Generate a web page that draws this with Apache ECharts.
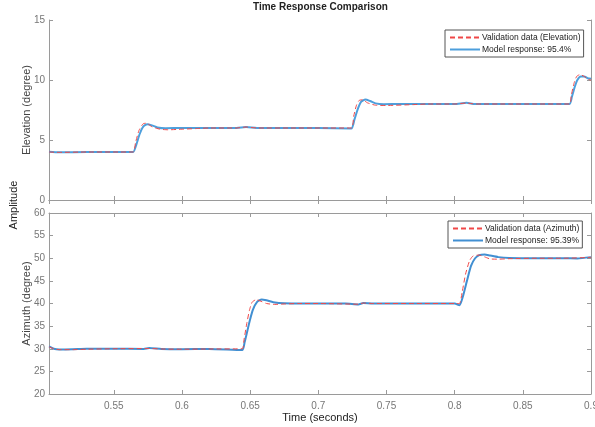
<!DOCTYPE html>
<html lang="en">
<head>
    <meta charset="UTF-8">
    <title>Time Response Comparison</title>
    <script src="https://cdn.jsdelivr.net/npm/echarts@6/dist/echarts.min.js"></script>
    <style>
        html, body { margin: 0; padding: 0; background: #fff; }
    </style>
</head>
<body>
    <div id="mycharts" style="width: 595px;height:427px;"></div>
    <script>
        // elevation (top plot)
        var tElevVal = [0.5025, 0.51, 0.53, 0.55, 0.5642, 0.566, 0.5685, 0.5715, 0.574, 0.578, 0.584, 0.59, 0.60, 0.61, 0.62, 0.64, 0.647, 0.655, 0.68, 0.70, 0.7242, 0.726, 0.728, 0.730, 0.7325, 0.736, 0.742, 0.75, 0.77, 0.78, 0.80, 0.8087, 0.815, 0.84, 0.86, 0.8843, 0.8855, 0.8875, 0.8895, 0.892, 0.895, 0.898, 0.9]
        var elevVal = [4.0, 3.97, 4.0, 4.0, 4.0, 4.8, 5.8, 6.35, 6.4, 6.1, 5.9, 5.85, 5.9, 5.95, 6.0, 6.0, 6.08, 6.0, 6.0, 6.0, 6.0, 7.0, 7.9, 8.3, 8.35, 8.1, 7.9, 7.88, 7.95, 8.0, 8.0, 8.08, 8.0, 8.0, 8.0, 8.0, 8.7, 9.7, 10.3, 10.45, 10.3, 10.05, 10.0]
        var tElevModel = [0.5025, 0.51, 0.53, 0.55, 0.5642, 0.5665, 0.569, 0.5715, 0.5745, 0.578, 0.582, 0.588, 0.60, 0.64, 0.647, 0.655, 0.68, 0.70, 0.7242, 0.7265, 0.729, 0.7315, 0.7345, 0.738, 0.742, 0.748, 0.76, 0.80, 0.8087, 0.815, 0.84, 0.86, 0.8843, 0.886, 0.888, 0.890, 0.8925, 0.895, 0.8975, 0.9]
        var elevModel = [4.02, 3.97, 4.0, 4.0, 4.0, 4.6, 5.5, 6.1, 6.32, 6.22, 6.05, 5.98, 6.0, 6.0, 6.08, 6.0, 6.0, 6.0, 5.96, 6.7, 7.6, 8.2, 8.38, 8.25, 8.05, 7.98, 8.0, 8.0, 8.1, 8.0, 8.0, 8.0, 8.0, 8.6, 9.4, 10.0, 10.3, 10.3, 10.15, 10.1]

        // azimuth (bottom plot)
        var tAzVal = [0.5025, 0.506, 0.51, 0.52, 0.53, 0.55, 0.576, 0.585, 0.60, 0.62, 0.6442, 0.6455, 0.6475, 0.6495, 0.6515, 0.6545, 0.658, 0.662, 0.668, 0.675, 0.685, 0.70, 0.7294, 0.733, 0.74, 0.77, 0.80, 0.8035, 0.8055, 0.808, 0.811, 0.8135, 0.818, 0.822, 0.826, 0.832, 0.84, 0.86, 0.88, 0.9]
        var azVal = [30.4, 30.0, 29.8, 29.8, 29.9, 30.0, 30.05, 29.95, 29.9, 29.95, 30.0, 32.0, 35.5, 38.5, 40.3, 40.85, 40.5, 40.0, 39.8, 39.9, 40.0, 40.0, 39.85, 40.1, 40.0, 40.0, 40.0, 40.0, 42.5, 46.5, 49.5, 50.5, 50.7, 50.3, 49.85, 49.8, 49.9, 50.0, 50.0, 50.2]
        var tAzModel = [0.5025, 0.506, 0.51, 0.52, 0.53, 0.55, 0.572, 0.576, 0.585, 0.60, 0.62, 0.6442, 0.646, 0.648, 0.650, 0.652, 0.655, 0.6585, 0.662, 0.667, 0.675, 0.69, 0.72, 0.7294, 0.733, 0.74, 0.77, 0.80, 0.8035, 0.806, 0.809, 0.812, 0.815, 0.818, 0.822, 0.826, 0.832, 0.84, 0.86, 0.88, 0.89, 0.9]
        var azModel = [30.5, 30.0, 29.85, 29.9, 30.0, 30.0, 29.95, 30.15, 29.95, 29.9, 29.95, 29.7, 31.5, 34.0, 36.5, 38.6, 40.3, 40.9, 40.7, 40.3, 40.05, 40.0, 40.0, 39.8, 40.1, 40.0, 40.0, 40.0, 39.6, 41.5, 45.0, 48.3, 50.0, 50.7, 50.85, 50.6, 50.25, 50.05, 50.0, 50.0, 49.95, 50.25]

        var elevTicks = [0, 5, 10, 15]
        var azTicks = [20, 25, 30, 35, 40, 45, 50, 55, 60]
        var timeRange = [0.5025, 0.9]

        var names = ['Validation data (Elevation)', 'Model response: 95.4%',
                     'Validation data (Azimuth)', 'Model response: 95.39%']

        function pairs(t, v) {
            return t.map(function (x, i) { return [x, v[i]] })
        }

        var chart = echarts.init(document.getElementById('mycharts'))
        var axisGray = '#9a9a9a'
        var font = 'Liberation Sans, Arial, sans-serif'

        function xAx(grid, pos, labels) {
            return {
                type: 'value', gridIndex: grid, position: pos,
                min: timeRange[0], max: timeRange[1], splitNumber: 8,
                axisLine: { lineStyle: { color: axisGray, width: 1 } },
                axisTick: { show: true, inside: true, length: 4, lineStyle: { color: axisGray } },
                axisLabel: {
                    show: labels, showMinLabel: false, color: '#777', fontSize: 10,
                    fontFamily: font, margin: 7
                },
                splitLine: { show: false }
            }
        }
        function yAx(grid, pos, ticks, labels, name) {
            return {
                type: 'value', gridIndex: grid, position: pos,
                min: ticks[0], max: ticks[ticks.length - 1], interval: ticks[1] - ticks[0],
                name: name || '', nameLocation: 'middle', nameGap: 17, nameMoveOverlap: false,
                nameTextStyle: { color: '#444', fontSize: 11, fontFamily: font },
                axisLine: { show: true, lineStyle: { color: axisGray, width: 1 } },
                axisTick: { show: true, inside: true, length: 4, lineStyle: { color: axisGray } },
                axisLabel: { show: labels, color: '#777', fontSize: 10, fontFamily: font, margin: 4 },
                splitLine: { show: false }
            }
        }

        var xAxes = [xAx(0, 'bottom', false), xAx(0, 'top', false), xAx(1, 'bottom', true), xAx(1, 'top', false)]
        xAxes[2].name = 'Time (seconds)'
        xAxes[2].nameLocation = 'middle'
        xAxes[2].nameGap = 18
        xAxes[2].nameTextStyle = { color: '#222', fontSize: 11, fontFamily: font }

        var legendBase = {
            orient: 'vertical',
            backgroundColor: '#fff',
            borderColor: '#555',
            borderWidth: 1,
            padding: [3, 3, 3, 4],
            itemGap: 3,
            itemWidth: 30,
            itemHeight: 8,
            itemStyle: { opacity: 0 },
            textStyle: { fontSize: 8.5, color: '#222', fontFamily: font, padding: [0, 0, 0, -3] }
        }

        var options = {
            animation: false,
            graphic: [{
                type: 'text', left: 253, top: 2,
                style: { text: 'Time Response Comparison', fontSize: 10, fontWeight: 'bold', fill: '#222', fontFamily: font }
            }, {
                type: 'text', x: 14, y: 205, rotation: Math.PI / 2,
                style: { text: 'Amplitude', fontSize: 11, fill: '#222', fontFamily: font, align: 'center', verticalAlign: 'middle' }
            }],
            grid: [
                { left: 49, top: 20, width: 542, height: 180, outerBoundsMode: 'none', containLabel: false },
                { left: 49, top: 213, width: 542, height: 181, outerBoundsMode: 'none', containLabel: false }
            ],
            legend: [
                Object.assign({}, legendBase, { left: 445, top: 30, data: [names[0], names[1]] }),
                Object.assign({}, legendBase, { left: 448, top: 221, data: [names[2], names[3]] })
            ],
            xAxis: xAxes,
            yAxis: [
                yAx(0, 'left', elevTicks, true, 'Elevation (degree)'),
                yAx(0, 'right', elevTicks, false),
                yAx(1, 'left', azTicks, true, 'Azimuth (degree)'),
                yAx(1, 'right', azTicks, false)
            ],
            series: [{
                name: names[1], type: 'line', xAxisIndex: 0, yAxisIndex: 0,
                data: pairs(tElevModel, elevModel), symbol: 'none', smooth: 0.2,
                lineStyle: { color: '#4d9fdc', width: 2 }, itemStyle: { color: '#4d9fdc' }
            }, {
                name: names[0], type: 'line', xAxisIndex: 0, yAxisIndex: 0,
                data: pairs(tElevVal, elevVal), symbol: 'none', smooth: 0.2,
                lineStyle: { color: '#f04848', width: 1, type: [5, 3] }, itemStyle: { color: '#f04848' }
            }, {
                name: names[3], type: 'line', xAxisIndex: 2, yAxisIndex: 2,
                data: pairs(tAzModel, azModel), symbol: 'none', smooth: 0.2,
                lineStyle: { color: '#418fd2', width: 2 }, itemStyle: { color: '#418fd2' }
            }, {
                name: names[2], type: 'line', xAxisIndex: 2, yAxisIndex: 2,
                data: pairs(tAzVal, azVal), symbol: 'none', smooth: 0.2,
                lineStyle: { color: '#f04848', width: 1, type: [5, 3] }, itemStyle: { color: '#f04848' }
            }]
        }
        chart.setOption(options)
    </script>
</body>
</html>
